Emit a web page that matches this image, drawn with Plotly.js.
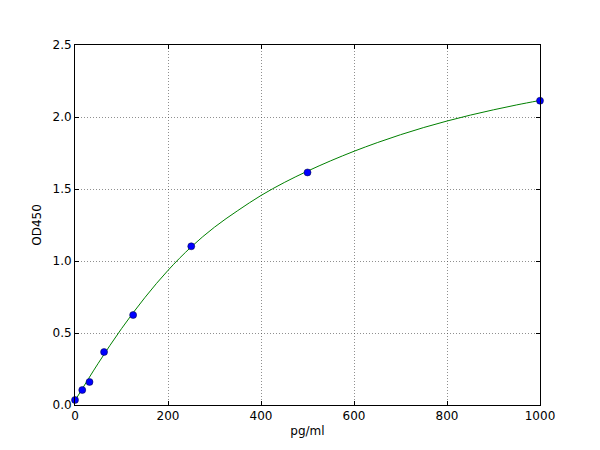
<!DOCTYPE html>
<html>
<head>
<meta charset="utf-8">
<script src="https://cdn.plot.ly/plotly-3.0.1.min.js"></script>
<style>html,body{margin:0;padding:0;background:#fff;}#chart{width:600px;height:450px;}</style>
</head>
<body>
<div id="chart"></div>
<script>
// Standard points
const stdConc = [0, 15.6, 31.25, 62.5, 125, 250, 500, 1000];
const stdOD = [0.035, 0.104, 0.16, 0.368, 0.625, 1.102, 1.615, 2.113];
// Fitted curve
const curveConc = [0, 50, 100, 150, 200, 250, 300, 350, 400, 450, 500, 550, 600, 650, 700, 750, 800, 850, 900, 950, 1000];
const curveOD = [0.03, 0.29, 0.53, 0.745, 0.935, 1.098, 1.235, 1.35, 1.455, 1.545, 1.624, 1.696, 1.762, 1.822, 1.877, 1.927, 1.972, 2.013, 2.05, 2.084, 2.115];
const xTicks = [0, 200, 400, 600, 800, 1000];
const yTicks = [0.0, 0.5, 1.0, 1.5, 2.0, 2.5];
const yTickText = ['0.0', '0.5', '1.0', '1.5', '2.0', '2.5'];

const traces = [
  {x: curveConc, y: curveOD, mode: 'lines', line: {color: '#008000', width: 1, shape: 'spline', smoothing: 1}, hoverinfo: 'skip', showlegend: false},
  {x: stdConc, y: stdOD, mode: 'markers', marker: {color: '#0000ff', size: 7, line: {color: '#000033', width: 0.5}}, cliponaxis: false, showlegend: false}
];
const axisCommon = {
  showline: true, linecolor: '#000', linewidth: 1, mirror: 'ticks',
  ticks: 'inside', ticklen: 4, tickwidth: 1, tickcolor: '#000',
  showgrid: true, gridcolor: '#444', gridwidth: 0.6, griddash: '1px,2px',
  zeroline: false, tickfont: {family: 'DejaVu Sans', size: 12, color: '#000'}
};
const layout = {
  width: 600, height: 450,
  margin: {l: 75, r: 60, t: 45, b: 45},
  paper_bgcolor: '#fff', plot_bgcolor: '#fff',
  font: {family: 'DejaVu Sans', color: '#000'},
  xaxis: Object.assign({}, axisCommon, {range: [0, 1000], tickvals: xTicks, ticktext: xTicks.map(String),
    title: {text: 'pg/ml', font: {family: 'DejaVu Sans', size: 12}, standoff: 4}}),
  yaxis: Object.assign({}, axisCommon, {range: [0, 2.5], tickvals: yTicks, ticktext: yTickText,
    title: {text: 'OD450', font: {family: 'DejaVu Sans', size: 12}, standoff: 8}})
};
Plotly.newPlot('chart', traces, layout, {staticPlot: true});
</script>
</body>
</html>
